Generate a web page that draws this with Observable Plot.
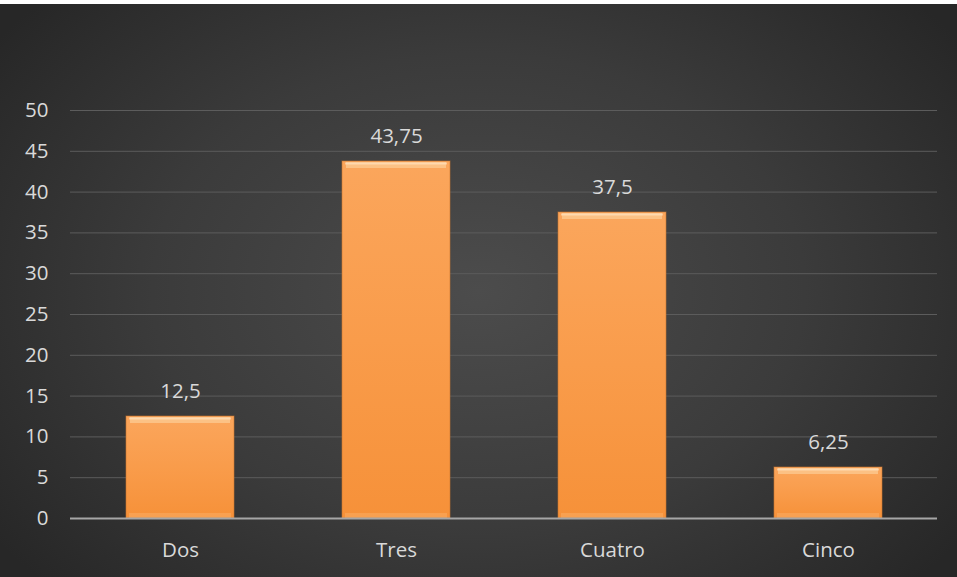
<!DOCTYPE html>
<html><head><meta charset="utf-8">
<script src="https://cdn.jsdelivr.net/npm/d3@7"></script>
<script src="https://cdn.jsdelivr.net/npm/@observablehq/plot@0.6"></script>
<style>
html,body{margin:0;padding:0;background:#fff;}
#chart{position:absolute;left:0;top:4px;width:957px;height:573px;
background:radial-gradient(ellipse 62% 75% at 50% 50%, #4c4c4c 0%, #3b3b3b 55%, #272727 100%);}
</style></head><body><div id="chart"></div>
<script>
const categories = ["Dos", "Tres", "Cuatro", "Cinco"];
const values = [12.5, 43.75, 37.5, 6.25];
const yTicks = [0, 5, 10, 15, 20, 25, 30, 35, 40, 45, 50];

const data = categories.map((c, i) => ({category: c, value: values[i]}));
const fmt = v => String(v).replace(".", ",");

const chart = Plot.plot({
  width: 957, height: 573,
  marginLeft: 70, marginRight: 20, marginTop: 106, marginBottom: 59,
  style: {background: "transparent", color: "#d9d9d9", fontFamily: "Open Sans", fontSize: "20.5px"},
  x: {domain: categories, paddingInner: 0.5, paddingOuter: 0.25, label: null, tickSize: 0, tickPadding: 24},
  y: {domain: [0, 50], ticks: yTicks, label: null, tickSize: 0, tickPadding: 22},
  marks: [
    Plot.ruleY(yTicks.filter(t => t > 0), {stroke: "#5c5c5c", strokeWidth: 1}),
    Plot.barY(data, {x: "category", y: "value", fill: "url(#barGrad)", stroke: "#c8742e", strokeOpacity: 0.6}),
    Plot.tickY(data, {x: "category", y: "value", stroke: "#fdd5a2", strokeOpacity: 0.6, strokeWidth: 6, dy: 3.5, insetLeft: 4, insetRight: 4}),
    Plot.tickY(data, {x: "category", y: "value", stroke: "#fff0d8", strokeOpacity: 0.5, strokeWidth: 2, dy: 2, insetLeft: 3, insetRight: 3}),
    Plot.tickY(data, {x: "category", y: 0, stroke: "#fcc487", strokeOpacity: 0.3, strokeWidth: 5, dy: -3, insetLeft: 3, insetRight: 3}),
    Plot.ruleY([0], {stroke: "#a6a6a6", strokeWidth: 2}),
    Plot.text(data, {x: "category", y: "value", text: d => fmt(d.value), dy: -25, fill: "#d9d9d9"})
  ]
});

d3.select(chart).insert("defs", ":first-child").html(`
  <linearGradient id="barGrad" x1="0" y1="0" x2="0" y2="1">
    <stop offset="0" stop-color="#fba65c"/>
    <stop offset="0.5" stop-color="#f99c4b"/>
    <stop offset="1" stop-color="#f69139"/>
  </linearGradient>`);

document.getElementById("chart").appendChild(chart);
</script></body></html>
